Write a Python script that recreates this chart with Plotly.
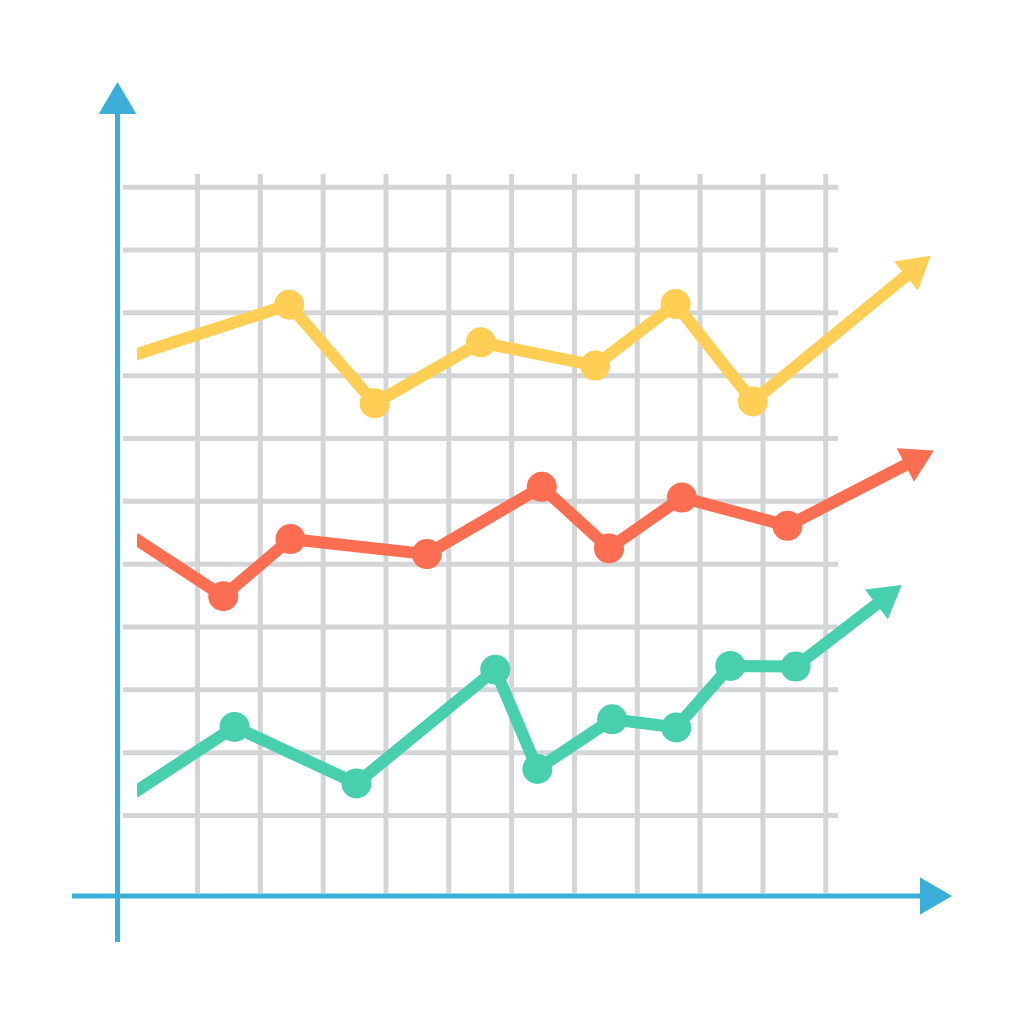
import math
import plotly.graph_objects as go

# ---- data (grid units) ----
grid_x = [1, 2, 3, 4, 5, 6, 7, 8, 9, 10, 11]
grid_y = [1, 2, 3, 4, 5, 6, 7, 8, 9, 10, 11]

yellow_x = [0.0, 2.46, 3.82, 5.51, 7.33, 8.61, 9.84, 12.67]
yellow_y = [8.33, 9.13, 7.56, 8.53, 8.16, 9.14, 7.59, 9.91]
red_x = [0.0, 1.41, 2.48, 4.65, 6.48, 7.55, 8.71, 10.39, 12.72]
red_y = [5.41, 4.49, 5.40, 5.16, 6.23, 5.25, 6.06, 5.61, 6.81]
green_x = [0.0, 1.59, 3.53, 5.74, 6.41, 7.60, 8.62, 9.48, 10.52, 12.21]
green_y = [1.37, 2.41, 1.51, 3.32, 1.74, 2.53, 2.40, 3.38, 3.37, 4.67]

YELLOW = "#FFCE54"
RED = "#FC6E51"
GREEN = "#48CFAD"
BLUE = "#3BAFDA"
GRID = "#D4D5D7"

# ---- scale: pixels per grid unit and origin ----
U = 62.83
X0 = 134.65
Y0 = 878.3
W = 1024
xr = [(0 - X0) / U, (W - X0) / U]
yr = [(Y0 - W) / U, Y0 / U]
clip_left_px = 137
xr2 = [(clip_left_px - X0) / U, xr[1]]

HEAD_L = 0.51
HEAD_W = 0.60


def head(tx, ty, fx, fy):
    dx, dy = tx - fx, ty - fy
    n = math.hypot(dx, dy)
    ux, uy = dx / n, dy / n
    bx, by = tx - HEAD_L * ux, ty - HEAD_L * uy
    px, py = -uy, ux
    xs = [tx, bx + HEAD_W / 2 * px, bx - HEAD_W / 2 * px, tx]
    ys = [ty, by + HEAD_W / 2 * py, by - HEAD_W / 2 * py, ty]
    return xs, ys, (tx - 0.85 * HEAD_L * ux, ty - 0.85 * HEAD_L * uy)


fig = go.Figure()

for xs, ys, col in [(yellow_x, yellow_y, YELLOW), (red_x, red_y, RED), (green_x, green_y, GREEN)]:
    hx, hy, (lx, ly) = head(xs[-1], ys[-1], xs[-2], ys[-2])
    fig.add_trace(go.Scatter(x=xs[:-1] + [lx], y=ys[:-1] + [ly], mode="lines",
                             line=dict(color=col, width=12), xaxis="x2", yaxis="y2",
                             hoverinfo="skip"))
    fig.add_trace(go.Scatter(x=xs[1:-1], y=ys[1:-1], mode="markers",
                             marker=dict(color=col, size=30, line=dict(width=0)),
                             xaxis="x2", yaxis="y2", hoverinfo="skip"))
    fig.add_trace(go.Scatter(x=hx, y=hy, mode="lines", fill="toself", fillcolor=col,
                             line=dict(width=0, color=col), xaxis="x2", yaxis="y2",
                             hoverinfo="skip"))

shapes = []
gx0, gx1 = (123 - X0) / U, (838 - X0) / U
gy0, gy1 = (Y0 - 893) / U, (Y0 - 174) / U
for g in grid_y:
    shapes.append(dict(type="line", xref="x", yref="y", x0=gx0, x1=gx1, y0=g, y1=g,
                       line=dict(color=GRID, width=5), layer="below"))
for g in grid_x:
    shapes.append(dict(type="line", xref="x", yref="y", x0=g, x1=g, y0=gy0, y1=gy1,
                       line=dict(color=GRID, width=5), layer="below"))

ax_x = (117.5 - X0) / U
ax_y = (Y0 - 896) / U
yb, yt = (Y0 - 942) / U, (Y0 - 82) / U
xl, xrt = (72 - X0) / U, (952 - X0) / U
# y axis line and head
shapes.append(dict(type="line", xref="x", yref="y", x0=ax_x, x1=ax_x, y0=yb, y1=yt - 0.9 * HEAD_L,
                   line=dict(color=BLUE, width=5)))
hx, hy, _ = head(ax_x, yt, ax_x, 0)
shapes.append(dict(type="path", xref="x", yref="y",
                   path=f"M{hx[0]},{hy[0]} L{hx[1]},{hy[1]} L{hx[2]},{hy[2]} Z",
                   fillcolor=BLUE, line=dict(width=0)))
# x axis line and head
shapes.append(dict(type="line", xref="x", yref="y", x0=xl, x1=xrt - 0.9 * HEAD_L, y0=ax_y, y1=ax_y,
                   line=dict(color=BLUE, width=5)))
hx, hy, _ = head(xrt, ax_y, 0, ax_y)
shapes.append(dict(type="path", xref="x", yref="y",
                   path=f"M{hx[0]},{hy[0]} L{hx[1]},{hy[1]} L{hx[2]},{hy[2]} Z",
                   fillcolor=BLUE, line=dict(width=0)))

hidden = dict(visible=False, showgrid=False, zeroline=False, fixedrange=True)
fig.update_layout(
    width=W, height=W, autosize=False,
    margin=dict(l=0, r=0, t=0, b=0, pad=0),
    paper_bgcolor="white", plot_bgcolor="rgba(0,0,0,0)",
    showlegend=False,
    shapes=shapes,
    xaxis=dict(range=xr, domain=[0, 1], anchor="y", **hidden),
    yaxis=dict(range=yr, domain=[0, 1], anchor="x", **hidden),
    xaxis2=dict(range=xr2, domain=[clip_left_px / W, 1], anchor="y2", **hidden),
    yaxis2=dict(range=yr, domain=[0, 1], anchor="x2", **hidden),
)

fig.write_html("out.html", config={"displayModeBar": False, "staticPlot": True},
               post_script="document.body.style.margin='0';document.body.style.overflow='hidden';")
